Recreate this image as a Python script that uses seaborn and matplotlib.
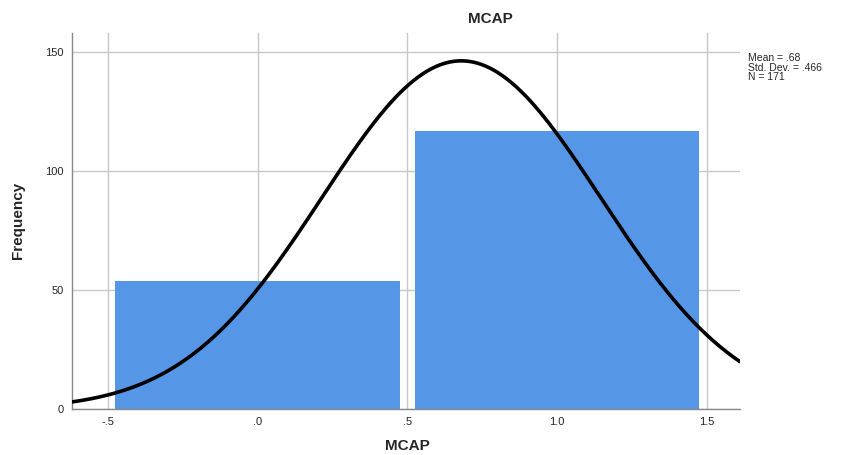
import matplotlib.pyplot as plt
import seaborn as sns
import pandas as pd
import numpy as np

# MCAP value counts (dummy 0/1)
valores = [0, 1]
frequencias = [54, 117]
media = 0.68
desvio = 0.466
n_total = 171

x_ticks = [-0.5, 0.0, 0.5, 1.0, 1.5]
x_labels = ['-.5', '.0', '.5', '1.0', '1.5']
y_ticks = [0, 50, 100, 150]

sns.set_style('white')
plt.rcParams['font.family'] = ['Liberation Sans', 'DejaVu Sans']

fig = plt.figure(figsize=(8.41, 4.55), dpi=100)
ax = fig.add_axes([0.0856, 0.101, 0.794, 0.826])

df = pd.DataFrame({'MCAP': valores, 'freq': frequencias})
sns.histplot(data=df, x='MCAP', weights='freq', discrete=True, shrink=0.95,
             color='#5596e6', alpha=1, edgecolor='none', ax=ax, zorder=2)

# curva normal ajustada (estilo SPSS)
xs = np.linspace(-0.62, 1.61, 300)
ys = n_total * 1.0 / (desvio * np.sqrt(2 * np.pi)) * np.exp(-0.5 * ((xs - media) / desvio) ** 2)
sns.lineplot(x=xs, y=ys, color='black', linewidth=2.6, ax=ax, zorder=3)

ax.set_xlim(-0.62, 1.61)
ax.set_ylim(0, 158)
ax.set_xticks(x_ticks)
ax.set_xticklabels(x_labels, fontsize=8)
ax.set_yticks(y_ticks)
ax.set_yticklabels([str(v) for v in y_ticks], fontsize=8)
ax.tick_params(length=0, pad=6)
ax.grid(True, color='#c8c8c8', linewidth=1, zorder=0)
ax.set_axisbelow(True)
for lado in ['top', 'right']:
    ax.spines[lado].set_visible(False)
for lado in ['left', 'bottom']:
    ax.spines[lado].set_color('#888888')
    ax.spines[lado].set_linewidth(1)

ax.set_xlabel('')
ax.set_ylabel('')
fig.text(407 / 841, 1 - 446 / 455, 'MCAP', ha='center', va='center',
         fontsize=11, fontweight='bold')
fig.text(18 / 841, 1 - 220 / 455, 'Frequency', ha='center', va='center',
         rotation=90, fontsize=11, fontweight='bold')

fig.text(490 / 841, 1 - 19 / 455, 'MCAP', ha='center', va='center',
         fontsize=11, fontweight='bold')
fig.text(748 / 841, 1 - 53 / 455, 'Mean = .68\nStd. Dev. = .466\nN = 171',
         ha='left', va='top', fontsize=7.5, linespacing=0.95)

fig.savefig('out.png', dpi=100)
